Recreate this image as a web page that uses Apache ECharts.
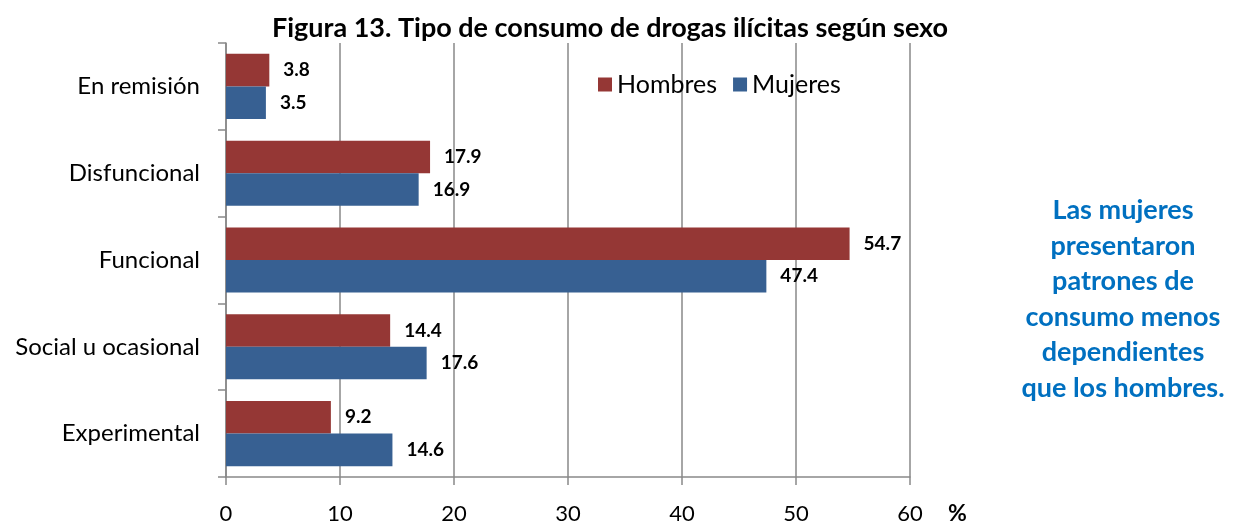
<!DOCTYPE html>
<html><head><meta charset="utf-8">
<script src="https://cdn.jsdelivr.net/npm/echarts@6/dist/echarts.min.js"></script>
<style>html,body{margin:0;padding:0;background:#fff}#c{width:1233px;height:523px}</style>
</head><body><div id="c"></div>
<script>
const categories = ['En remisión', 'Disfuncional', 'Funcional', 'Social u ocasional', 'Experimental'];
const hombres = [3.8, 17.9, 54.7, 14.4, 9.2];
const mujeres = [3.5, 16.9, 47.4, 17.6, 14.6];
const xTicks = [0, 10, 20, 30, 40, 50, 60];
const titleText = 'Figura 13. Tipo de consumo de drogas ilícitas según sexo';
const noteText = 'Las mujeres\npresentaron\npatrones de\nconsumo menos\ndependientes\nque los hombres.';

const FONT = 'Lato, "Open Sans", sans-serif';
const chart = echarts.init(document.getElementById('c'));
const lbl = {show: true, position: 'right', distance: 14, color: '#000', fontWeight: 'bold', fontSize: 19, fontFamily: FONT, formatter: p => p.value.toFixed(1)};
chart.setOption({
  animation: false,
  title: {text: titleText, left: 605, top: 10, textAlign: 'center',
    textStyle: {fontFamily: FONT, fontWeight: 'bold', fontSize: 27, color: '#000'}},
  legend: {data: ['Hombres', 'Mujeres'], left: 598, top: 72, padding: 0, itemWidth: 14, itemHeight: 14, itemGap: 16,
    textStyle: {fontFamily: FONT, fontSize: 25, color: '#000'}, icon: 'rect'},
  grid: {left: 226, right: 323, top: 43, bottom: 46, containLabel: false, outerBoundsMode: 'none'},
  xAxis: {type: 'value', min: xTicks[0], max: xTicks[xTicks.length - 1], interval: 10,
    axisLine: {show: true, lineStyle: {color: '#898989', width: 1.5}},
    axisTick: {show: true, length: 8, lineStyle: {color: '#898989', width: 1.5}},
    splitLine: {show: true, lineStyle: {color: '#898989', width: 1.5}},
    axisLabel: {fontFamily: FONT, fontSize: 22, color: '#000', margin: 26}},
  yAxis: {type: 'category', data: categories, inverse: true,
    axisLine: {show: true, lineStyle: {color: '#898989', width: 1.5}},
    axisTick: {show: true, length: 8, lineStyle: {color: '#898989', width: 1.5}},
    axisLabel: {fontFamily: FONT, fontSize: 24, color: '#000', margin: 26}},
  series: [
    {name: 'Hombres', type: 'bar', data: hombres, barGap: '0%', barCategoryGap: '25%',
      itemStyle: {color: '#953735'}, label: lbl},
    {name: 'Mujeres', type: 'bar', data: mujeres, barGap: '0%', barCategoryGap: '25%',
      itemStyle: {color: '#376092'}, label: lbl}
  ],
  graphic: [
    {type: 'text', left: 948, top: 502, style: {text: '%', fontFamily: FONT, fontWeight: 'bold', fontSize: 23, fill: '#000'}},
    {type: 'text', x: 1123, y: 193, style: {text: noteText, textAlign: 'center', fontFamily: FONT, fontWeight: 'bold', fontSize: 27, lineHeight: 35.5, fill: '#0070C0'}}
  ]
});
</script></body></html>
